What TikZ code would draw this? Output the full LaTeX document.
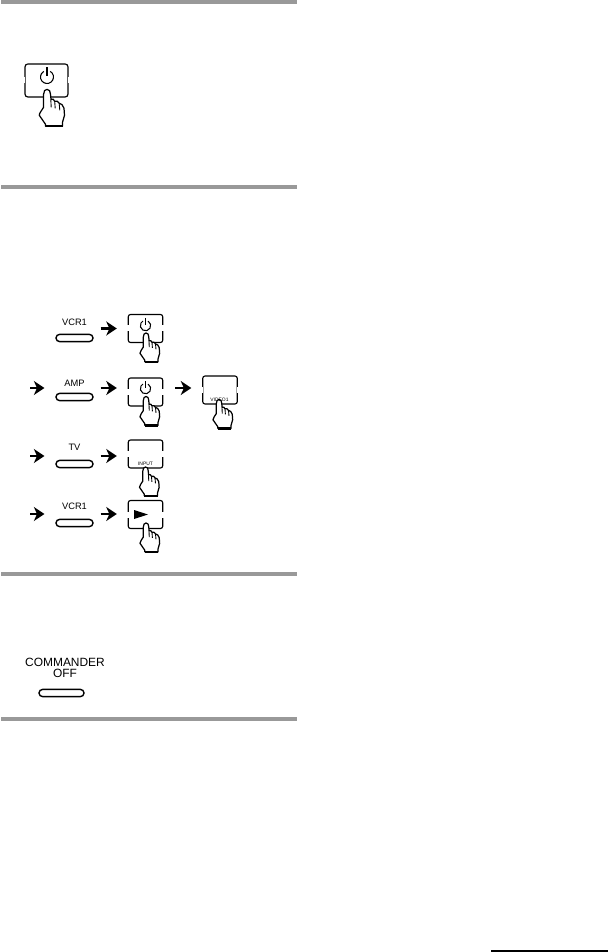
\documentclass[tikz,border=0pt]{standalone}
\usepackage{fontspec}
\setmainfont{Liberation Sans}
\usetikzlibrary{arrows.meta, shapes.misc}
\definecolor{bargray}{gray}{0.6}
\tikzset{
  keylabel/.style={inner sep=0pt, font=\fontsize{5.3}{6.4}\selectfont},
  biglabel/.style={inner sep=0pt, align=center, font=\fontsize{6.8}{6.3}\selectfont},
  tinylabel/.style={inner sep=0pt, font=\fontsize{2.8}{3.4}\selectfont},
  ovalkey/.style={draw, rounded rectangle, line width=0.8pt, inner sep=0pt, minimum width=0.74cm, minimum height=0.145cm},
  keysmall/.style={draw, rounded corners=1.3pt, line width=0.65pt, inner sep=0pt, minimum width=0.69cm, minimum height=0.56cm},
  keybig/.style={keysmall, rounded corners=1.6pt, minimum width=0.86cm, minimum height=0.66cm},
  gapline/.style={white, line width=1.2pt},
  flowarrow/.style={-{Stealth[length=6pt, width=8pt, inset=1.8pt]}, line width=1.7pt, shorten <=4pt, shorten >=6.2pt},
  powerglyph/.pic={
    \draw[line width=0.6pt] (0,-3) ++(-60:6.5) arc[start angle=-60, end angle=240, radius=6.5];
    \draw[line width=0.6pt] (0,-12.5) -- (0,-4);
  },
  handpress/.pic={
    \draw[fill=white, line width=0.7pt, line join=round] (0,0) .. controls (2.5,0) and (3.3,2) .. (3.5,5) -- (4,10)
      .. controls (5.5,9) and (7,10) .. (7.7,12) .. controls (9,11) and (11.5,12) .. (12.2,14)
      .. controls (14,14) and (16.5,16) .. (17,19) -- (17.5,26) -- (15.5,33) -- (15.5,37) -- (-1.5,37) -- (-1.5,35)
      -- (-7.7,26) .. controls (-8,24) and (-5,21) .. (-3.4,18) -- (-3.4,5) .. controls (-3.4,2) and (-2,0) .. (0,0) -- cycle;
    \draw[line width=0.5pt] (3.8,10) -- (4.2,18) (7.7,12) -- (8.2,19) (12.2,14) -- (12.8,21);
    \draw[line width=1.3pt] (-1.5,37) -- (15.5,37);
  }
}
\begin{document}
\begin{tikzpicture}[x=0.02cm, y=-0.02cm]
  \useasboundingbox (0,0) rectangle (608,952);
  \fill[bargray] (1,0) rectangle (297,4);
  \fill[bargray] (1,185) rectangle (297,189);
  \fill[bargray] (1,572) rectangle (297,576);
  \fill[bargray] (1,717) rectangle (297,721);
  \fill[black] (491,950) rectangle (608,952);

  \node[keybig] (keyPower) at (46.5,80.5) {};
  \node[keysmall] (keyA) at (145.5,328.5) {};
  \node[keysmall] (keyB) at (145.5,392) {};
  \node[keysmall] (keyC) at (220,390) {};
  \node[keysmall] (keyD) at (145.5,454) {};
  \node[keysmall] (keyE) at (145.5,514.5) {};
  \foreach \k in {keyPower,keyA,keyB,keyC,keyD,keyE} {
    \draw[gapline] (\k.west) ++(0,-3) -- ++(0,6);
    \draw[gapline] (\k.east) ++(0,-3) -- ++(0,6);
  }

  \pic at (47,80) {powerglyph};
  \pic[scale=0.8] at (145.5,328) {powerglyph};
  \pic[scale=0.8] at (145.5,391) {powerglyph};
  \fill (134,510) -- (148,514.5) -- (134,519) -- cycle;

  \pic at (47,89.3) {handpress};
  \pic[scale=0.78] at (146,333) {handpress};
  \pic[scale=0.78] at (146,396.5) {handpress};
  \pic[scale=0.78] at (219,399.5) {handpress};
  \pic[scale=0.78] at (145.5,467) {handpress};
  \pic[scale=0.78] at (146,523) {handpress};

  \node[tinylabel] (lblVideo) at (219.5,400) {VIDEO1};
  \node[tinylabel] (lblInput) at (145.5,464) {INPUT};

  \node[keylabel] (lblA) at (74.5,322) {VCR1};
  \node[ovalkey] (ovalA) at (74.5,338) {};
  \node[keylabel] (lblB) at (74.5,383) {AMP};
  \node[ovalkey] (ovalB) at (74.5,397) {};
  \node[keylabel] (lblC) at (74.5,447) {TV};
  \node[ovalkey] (ovalC) at (74.5,464) {};
  \node[keylabel] (lblD) at (74.5,506) {VCR1};
  \node[ovalkey] (ovalD) at (74.5,523) {};

  \coordinate (inB) at (30,388);
  \coordinate (inC) at (30,456);
  \coordinate (inD) at (30,514);

  \draw[flowarrow] (ovalA.east |- keyA.west) -- (keyA.west);
  \draw[flowarrow, shorten <=0pt] (inB) -- (ovalB.west |- inB);
  \draw[flowarrow] (ovalB.east |- inB) -- (keyB.west |- inB);
  \draw[flowarrow, shorten <=6.8pt] (keyB.east |- inB) -- (keyC.west |- inB);
  \draw[flowarrow, shorten <=0pt] (inC) -- (ovalC.west |- inC);
  \draw[flowarrow] (ovalC.east |- inC) -- (keyD.west |- inC);
  \draw[flowarrow, shorten <=0pt] (inD) -- (ovalD.west |- inD);
  \draw[flowarrow] (ovalD.east |- inD) -- (keyE.west |- inD);

  \node[biglabel] (lblOff) at (65,667.5) {COMMANDER\\OFF};
  \node[ovalkey, minimum width=0.9cm] (ovalOff) at (61.5,693) {};
\end{tikzpicture}
\end{document}
